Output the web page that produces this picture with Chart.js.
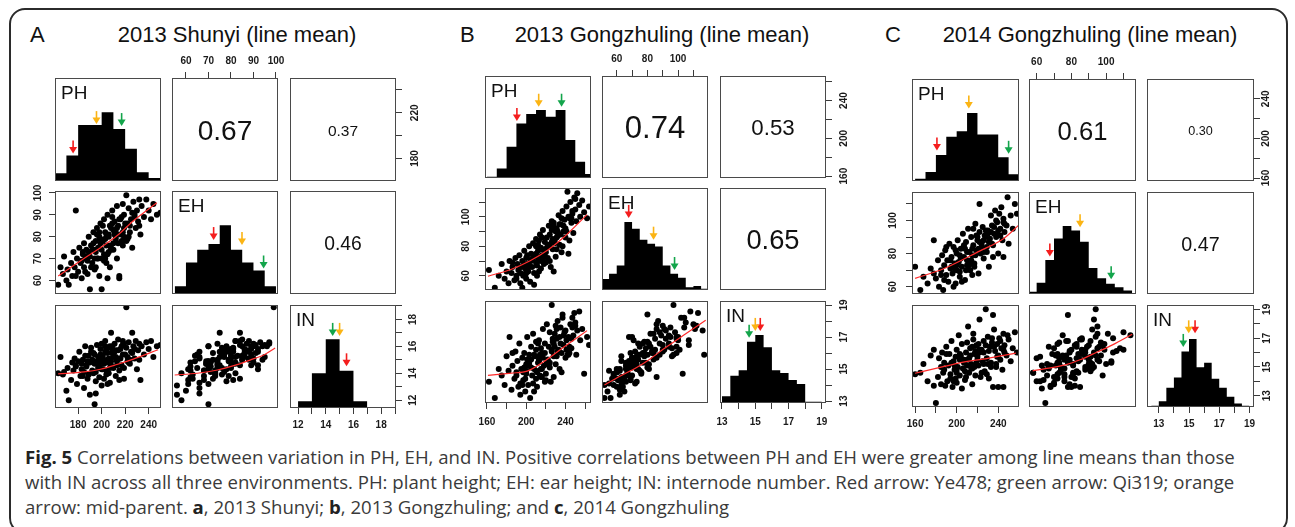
<!DOCTYPE html>
<html><head><meta charset="utf-8">
<script src="https://cdn.jsdelivr.net/npm/chart.js@4.4.1/dist/chart.umd.min.js"></script>
<style>
html,body{margin:0;padding:0;background:#fff;}
body{width:1295px;height:527px;overflow:hidden;position:relative;font-family:"Liberation Sans",Arial,sans-serif;}
#frame{position:absolute;left:9px;top:8px;width:1279px;height:526px;border:2px solid #2b2b2b;border-radius:16px;box-sizing:border-box;}
.cv{position:absolute;}
.ttl{position:absolute;font-size:22px;line-height:22px;color:#111;white-space:nowrap;}
.diag{position:absolute;font-size:19px;line-height:19px;color:#111;}
.cor{position:absolute;display:flex;align-items:center;justify-content:center;color:#111;padding-top:2px;box-sizing:border-box;}
#cap{position:absolute;left:25px;top:444px;font-family:"Open Sans",sans-serif;font-size:18.6px;line-height:25px;color:#3a3a3a;white-space:nowrap;}
#cap b{color:#222;}
</style></head><body>
<div id="frame"></div>
<div class="ttl" style="left:30px;top:24px;">A</div>
<div class="ttl" style="left:37px;top:24px;width:400px;text-align:center;">2013 Shunyi (line mean)</div>
<div class="ttl" style="left:460px;top:24px;">B</div>
<div class="ttl" style="left:462px;top:24px;width:400px;text-align:center;">2013 Gongzhuling (line mean)</div>
<div class="ttl" style="left:885px;top:24px;">C</div>
<div class="ttl" style="left:890px;top:24px;width:400px;text-align:center;">2014 Gongzhuling (line mean)</div>
<div id="cap"><b>Fig. 5</b> Correlations between variation in PH, EH, and IN. Positive correlations between PH and EH were greater among line means than those<br>with IN across all three environments. PH: plant height; EH: ear height; IN: internode number. Red arrow: Ye478; green arrow: Qi319; orange<br>arrow: mid-parent. <b>a</b>, 2013 Shunyi; <b>b</b>, 2013 Gongzhuling; and <b>c</b>, 2014 Gongzhuling</div>
<script>
// ---------------- DATA ----------------
const VAR_NAMES = ['PH', 'EH', 'IN'];

// Panel A: 2013 Shunyi (line means)
const PH_A = [
163,165,167,168,170,171,172,174,175,176,
177,178,179,180,181,182,183,184,185,185,
186,187,188,189,190,190,191,192,193,194,
194,195,196,196,197,198,198,199,200,200,
201,202,202,203,204,205,205,206,207,207,
208,209,210,210,211,212,213,213,214,215,
216,217,218,218,219,221,221,222,223,224,
225,226,227,228,229,230,231,232,233,234,
236,238,240,242,244,247,250,195,205,215,
192,197,203,208,212,188,199,206,216,223,
178,184,201,209,219,226,232,196,204,214,
187,191,195,199,202,206,210,213,217,220,
183,189,193,200,204,208,211,215,219,224,
198,203,207,212,186,194,209,218,222,228];
const EH_A = [
58,66,63,71,60,65,58,68,62,73,
66,92,70,64,75,68,61,72,77,66,
70,74,63,80,56,71,76,68,82,70,
65,78,84,70,75,62,80,86,56,74,
78,88,69,82,76,72,90,80,66,85,
84,92,74,83,87,79,94,70,85,62,
81,89,76,95,84,99,78,86,93,82,
88,75,96,90,84,92,87,97,81,94,
89,97,92,88,95,90,91,66,61,61,
74,70,79,75,82,69,77,73,88,80,
62,73,85,89,80,91,85,81,68,77,
71,66,73,79,72,81,77,84,78,86,
69,73,77,70,80,74,81,88,90,85,
82,70,76,80,64,74,86,82,79,89];
const IN_A = [
14.0,15.2,13.9,14.1,12.7,14.4,12.0,13.5,14.8,14.2,
15.1,14.6,13.2,14.9,15.6,13.8,14.3,15.0,14.1,12.9,
16.0,14.6,13.6,15.3,12.4,14.8,15.9,14.2,14.0,11.7,
15.4,13.4,16.1,14.9,15.2,13.7,14.5,15.8,13.1,16.2,
14.3,15.0,14.7,16.4,13.9,15.5,14.8,15.1,13.3,16.0,
17.0,15.6,14.4,15.3,16.2,13.8,15.0,14.9,16.5,14.2,
15.8,14.6,15.4,16.1,13.6,18.9,15.9,15.2,16.3,14.7,
15.6,17.0,16.0,15.1,16.4,14.3,15.7,16.2,13.5,16.0,
15.4,16.3,15.8,16.4,15.2,16.0,16.1,12.5,13.2,13.5,
15.0,14.4,15.6,14.6,15.2,14.9,15.4,14.0,15.1,14.8,
14.5,13.8,15.3,16.0,14.4,15.5,15.0,14.7,14.2,15.7,
14.5,15.6,14.1,15.0,13.6,15.9,15.2,14.6,16.0,15.4,
14.7,13.9,15.5,14.3,15.8,14.9,15.6,15.1,16.2,15.0,
14.8,16.0,14.4,15.7,15.3,14.7,15.5,16.4,14.9,15.8];
const COR_A = [0.67, 0.37, 0.46];           // PH-EH, PH-IN, EH-IN
const BRK_A_PH = [160,170,180,190,200,210,220,230,240,250];
const CNT_A_PH = [8,26,57,57,70,53,33,9,3];
const BRK_A_EH = [55,60,65,70,75,80,85,90,95,100];
const CNT_A_EH = [8,32,45,51,70,45,32,24,8];
const BRK_A_IN = [12,13,14,15,16,17];
const CNT_A_IN = [14,71,140,76,14];
// arrows: red (Ye478), orange (mid-parent), green (Qi319): x value, tip height
const ARX_A_PH = [175.7, 195.6, 217.0]; const ARY_A_PH = [28, 58, 56];
const ARX_A_EH = [72.3, 84.9, 94.5];    const ARY_A_EH = [55, 50, 26];
const ARX_A_IN = [15.5, 15.0, 14.5];    const ARY_A_IN = [85, 147, 147];
// smooth (lowess) lines
const LOX_A_PHEH = [163,184,199,213,227,247]; const LOY_A_PHEH = [62,69.7,75,80.4,87.3,95.5];
const LOX_A_PHIN = [163,185,199,213,227,248]; const LOY_A_PHIN = [13.95,14.1,14.3,14.65,15.05,15.75];
const LOX_A_EHIN = [55,65,74,82,88.5,95,99.6]; const LOY_A_EHIN = [13.87,14.0,14.24,14.6,14.98,15.4,15.87];
const RANGE_A_PH = [160.3, 250.5]; const RANGE_A_EH = [53.8, 100.9]; const RANGE_A_IN = [11.42, 19.07];
const TICKS_A_PH = [180,200,220,240]; const LAB_A_PH_RIGHT = [180,220]; const LAB_A_PH_BOTTOM = [180,200,220,240];
const TICKS_A_EH = [60,70,80,90,100]; const LAB_A_EH = [60,70,80,90,100];
const TICKS_A_IN = [12,13,14,15,16,17,18,19]; const LAB_A_IN = [12,14,16,18];

// Panel B: 2013 Gongzhuling (line means)
const PH_B = [
162,168,172,175,178,180,182,183,185,186,
188,189,190,191,192,193,194,195,196,197,
198,199,200,200,201,202,203,204,205,205,
206,207,208,209,210,210,211,212,213,214,
215,215,216,217,218,219,220,221,222,223,
224,225,226,227,228,229,230,231,232,233,
234,235,236,237,238,239,240,241,242,243,
244,245,246,247,248,249,250,251,252,254,
255,257,259,262,264,196,208,243,237,228,
203,210,217,221,226,231,235,207,213,199,
186,194,212,219,240,246,230,224,216,201,
205,211,216,222,227,232,238,244,200,208,
214,219,224,229,234,241,247,197,203,210,
215,220,226,231,236,190,198,213,228,250];
const EH_B = [
64,52,60,68,58,63,55,70,62,66,
57,72,60,68,64,74,55,66,70,61,
77,65,58,72,68,63,80,56,70,75,
66,82,62,73,69,85,60,77,71,88,
65,79,74,91,68,83,76,86,72,94,
80,66,97,78,96,84,73,92,87,101,
81,95,76,104,90,98,86,107,117,100,
84,110,96,102,89,113,105,97,116,108,
100,111,103,99,107,52,54,75,80,63,
67,75,70,79,83,78,88,72,63,60,
69,62,81,73,92,99,90,70,86,74,
71,67,78,81,85,90,94,99,62,74,
70,77,88,82,95,90,104,60,66,80,
73,69,91,86,99,58,68,84,94,112];
const IN_B = [
14.2,13.2,15.0,14.6,14.0,15.8,14.9,17.0,13.7,15.2,
14.4,16.1,14.8,15.5,13.9,16.6,14.1,15.0,15.7,14.3,
16.0,13.6,14.7,15.3,17.0,14.0,15.9,13.2,15.1,16.4,
14.6,17.2,15.0,15.8,14.4,16.2,13.9,15.4,16.8,15.9,
14.5,16.3,15.0,17.5,15.2,16.0,14.7,17.8,15.6,16.4,
15.1,14.2,19.0,16.7,15.8,17.2,15.3,16.9,18.0,16.2,
15.0,17.6,14.8,18.2,16.5,17.3,15.7,16.8,15.9,17.0,
16.0,17.8,16.3,18.2,17.1,18.5,17.9,15.9,17.4,18.6,
16.8,17.5,14.7,17.0,16.5,14.0,13.6,15.9,18.4,14.5,
15.2,14.9,15.7,15.4,16.1,15.8,16.6,14.1,15.5,14.4,
16.0,13.4,16.6,14.2,17.4,16.9,17.7,15.4,14.5,15.6,
15.6,14.8,16.0,15.3,16.9,16.1,17.1,16.4,14.9,15.9,
14.6,16.6,17.3,16.4,17.0,16.2,17.6,14.8,15.4,16.7,
15.0,14.3,16.2,17.5,16.0,14.6,15.1,15.6,16.6,17.7];
const COR_B = [0.74, 0.53, 0.65];
const BRK_B_PH = [160,170,180,190,200,210,220,230,240,250,260,270];
const CNT_B_PH = [1,7,23,40,47,50,45,50,28,12,3];
const BRK_B_EH = [50,55,60,65,70,75,80,85,90,95,100,105,110,115,120];
const CNT_B_EH = [8,12,18,50,45,37,34,32,18,12,9,2,3,1];
const BRK_B_IN = [13,13.5,14,14.5,15,15.5,16,16.5,17,17.5,18,18.5,19];
const CNT_B_IN = [5,20,24,45,50,41,24,22,17,14,1,1];
const ARX_B_PH = [190.5, 212.7, 236.0]; const ARY_B_PH = [42, 52.4, 52.4];
const ARX_B_EH = [67.8, 84.0, 97.7];    const ARY_B_EH = [53, 37, 14.7];
const ARX_B_IN = [15.3, 15.0, 14.63];   const ARY_B_IN = [53, 53, 48];
const LOX_B_PHEH = [161,185,204,222,238,262]; const LOY_B_PHEH = [59.7,64.5,70.2,77.5,86,101.5];
const LOX_B_PHIN = [161,185,201,221,238,262]; const LOY_B_PHIN = [14.6,14.75,14.87,15.6,16.36,17.4];
const LOX_B_EHIN = [52,62,73,82,90.5,105,118]; const LOY_B_EHIN = [14.0,14.55,15.1,15.65,16.25,17.2,18.05];
const RANGE_B_PH = [158, 266]; const RANGE_B_EH = [50.4, 119.5]; const RANGE_B_IN = [12.88, 19.25];
const TICKS_B_PH = [160,180,200,220,240,260]; const LAB_B_PH = [160,200,240];
const TICKS_B_EH = [60,70,80,90,100,110]; const LAB_B_EH = [60,80,100];
const TICKS_B_IN = [13,14,15,16,17,18,19]; const LAB_B_IN = [13,15,17,19];

// Panel C: 2014 Gongzhuling (line means)
const PH_C = [
160,168,172,175,178,180,182,183,185,186,
187,188,189,190,191,192,193,194,195,196,
197,198,199,200,200,201,202,203,204,205,
206,207,208,209,210,211,212,213,214,215,
216,217,218,219,220,221,222,223,224,225,
226,227,228,229,230,231,232,233,234,235,
236,237,238,239,240,241,242,243,244,245,
246,248,249,250,252,254,256,258,197,205,
215,178,235,190,245,165,222,213,198,208,
203,194,226,231,217,209,185,239,221,200,
204,210,215,220,226,230,236,240,200,195,
212,218,224,228,233,245,199,207,219,234,
214,222,210,203,238,188,246,229,216,242];
const EH_C = [
72,66,62,71,88,65,76,60,70,79,
58,73,82,67,76,63,86,71,78,68,
84,74,62,80,70,88,75,66,83,72,
92,78,64,87,76,95,81,70,90,79,
85,74,98,82,88,68,93,80,86,96,
77,91,94,84,94,72,89,103,97,85,
92,106,90,99,80,104,95,108,88,101,
93,97,114,86,103,95,110,104,60,63,
67,68,78,84,78,58,110,75,71,83,
79,76,81,87,72,70,67,91,83,74,
77,81,83,90,88,92,96,94,73,72,
73,79,84,90,93,99,82,85,91,86,
76,87,73,69,100,64,98,81,95,91];
const IN_C = [
14.5,15.2,14.0,15.8,16.2,12.5,14.3,15.6,13.8,16.0,
14.6,15.3,13.7,16.4,14.0,15.1,15.9,14.2,16.8,13.6,
15.4,14.8,15.7,16.2,13.9,15.0,17.2,14.4,15.6,16.6,
14.9,15.3,14.1,16.0,15.5,17.8,14.6,16.3,15.2,13.8,
16.9,15.0,14.4,16.5,15.7,15.1,18.3,14.3,16.2,15.4,
16.8,14.7,19.0,15.6,17.1,14.2,16.4,15.3,16.7,13.6,
17.6,16.1,15.0,16.6,13.6,17.0,15.5,16.3,14.8,17.3,
16.0,15.8,17.2,16.9,15.4,16.3,17.4,16.0,14.0,13.5,
14.9,13.7,18.6,15.9,13.6,14.6,16.2,15.8,15.1,14.7,
15.5,14.5,15.2,16.1,15.9,14.3,15.0,15.7,16.6,14.8,
15.8,15.1,16.4,15.5,16.0,15.2,16.4,15.8,14.6,15.3,
15.6,16.1,14.6,16.5,15.0,16.2,14.2,15.5,15.3,17.0,
14.9,16.0,16.7,15.9,15.2,14.8,16.5,14.5,17.3,16.8];
const COR_C = [0.61, 0.30, 0.47];
const BRK_C_PH = [160,170,180,190,200,210,220,230,240,250,260];
const CNT_C_PH = [2,8,23,39,44,60,41,41,21,6];
const BRK_C_EH = [55,60,65,70,75,80,85,90,95,100,105,110,115];
const CNT_C_EH = [2,10,30,49,60,56,46,23,14,9,6,3];
const BRK_C_IN = [12.5,13,13.5,14,14.5,15,15.5,16,16.5,17,17.5,18,18.5,19];
const CNT_C_IN = [1,5,17,26,49,60,35,39,25,17,9,3,1];
const ARX_C_PH = [181.0, 211.7, 250.0]; const ARY_C_PH = [27, 64, 24];
const ARX_C_EH = [67.6, 85.0, 102.9];   const ARY_C_EH = [33, 59, 13];
const ARX_C_IN = [15.4, 14.98, 14.62];  const ARY_C_IN = [65, 65, 53];
const LOX_C_PHEH = [160,188,222,245,260]; const LOY_C_PHEH = [65,71,81.5,89,97.3];
const LOX_C_PHIN = [160,180,202,230,257]; const LOY_C_PHIN = [14.56,14.9,15.27,15.6,15.96];
const LOX_C_EHIN = [57.7,67,77,85,92.3,104,115]; const LOY_C_EHIN = [14.73,14.92,15.16,15.5,15.89,16.55,17.27];
const RANGE_C_PH = [157, 260]; const RANGE_C_EH = [55.6, 117.2]; const RANGE_C_IN = [12.22, 19.3];
const TICKS_C_PH = [160,180,200,220,240]; const LAB_C_PH = [160,200,240];
const TICKS_C_EH = [60,70,80,90,100,110]; const LAB_C_EH = [60,80,100];
const TICKS_C_IN = [13,14,15,16,17,18,19]; const LAB_C_IN = [13,15,17,19];

const ARROW_COLORS = ['#f41d1d', '#fbb414', '#13a54b']; // red, orange, green

// ---------------- BUILD ----------------
const M = 34;
const TICK_FONT = {family: '"Liberation Sans Narrow", "Liberation Sans", Arial, sans-serif', size: 10, weight: 'bold'};

const PANELS = [
  { vars:[PH_A, EH_A, IN_A], ranges:[RANGE_A_PH, RANGE_A_EH, RANGE_A_IN], cor:COR_A,
    hist:[[BRK_A_PH,CNT_A_PH],[BRK_A_EH,CNT_A_EH],[BRK_A_IN,CNT_A_IN]],
    arrows:[[ARX_A_PH,ARY_A_PH],[ARX_A_EH,ARY_A_EH],[ARX_A_IN,ARY_A_IN]],
    lo:{'1_0':[LOX_A_PHEH,LOY_A_PHEH],'2_0':[LOX_A_PHIN,LOY_A_PHIN],'2_1':[LOX_A_EHIN,LOY_A_EHIN]},
    axes:{ top:{ticks:TICKS_A_EH,labels:LAB_A_EH,pad:4.5}, right0:{ticks:TICKS_A_PH,labels:LAB_A_PH_RIGHT,pad:4.5},
           left:{ticks:TICKS_A_EH,labels:LAB_A_EH,pad:2.5}, bottom0:{ticks:TICKS_A_PH,labels:LAB_A_PH_BOTTOM,pad:5.5},
           right2:{ticks:TICKS_A_IN,labels:LAB_A_IN,pad:6}, bottom2:{ticks:TICKS_A_IN,labels:LAB_A_IN,pad:5.5} },
    geo:{xs:[55,172,290], ys:[78,191,305], w:106, h:103} },
  { vars:[PH_B, EH_B, IN_B], ranges:[RANGE_B_PH, RANGE_B_EH, RANGE_B_IN], cor:COR_B,
    hist:[[BRK_B_PH,CNT_B_PH],[BRK_B_EH,CNT_B_EH],[BRK_B_IN,CNT_B_IN]],
    arrows:[[ARX_B_PH,ARY_B_PH],[ARX_B_EH,ARY_B_EH],[ARX_B_IN,ARY_B_IN]],
    lo:{'1_0':[LOX_B_PHEH,LOY_B_PHEH],'2_0':[LOX_B_PHIN,LOY_B_PHIN],'2_1':[LOX_B_EHIN,LOY_B_EHIN]},
    axes:{ top:{ticks:TICKS_B_EH,labels:LAB_B_EH,pad:4.5}, right0:{ticks:TICKS_B_PH,labels:LAB_B_PH,pad:3.8},
           left:{ticks:TICKS_B_EH,labels:LAB_B_EH,pad:4.2}, bottom0:{ticks:TICKS_B_PH,labels:LAB_B_PH,pad:7},
           right2:{ticks:TICKS_B_IN,labels:LAB_B_IN,pad:7}, bottom2:{ticks:TICKS_B_IN,labels:LAB_B_IN,pad:7} },
    geo:{xs:[485,602,720], ys:[76,188,301], w:106, h:102} },
  { vars:[PH_C, EH_C, IN_C], ranges:[RANGE_C_PH, RANGE_C_EH, RANGE_C_IN], cor:COR_C,
    hist:[[BRK_C_PH,CNT_C_PH],[BRK_C_EH,CNT_C_EH],[BRK_C_IN,CNT_C_IN]],
    arrows:[[ARX_C_PH,ARY_C_PH],[ARX_C_EH,ARY_C_EH],[ARX_C_IN,ARY_C_IN]],
    lo:{'1_0':[LOX_C_PHEH,LOY_C_PHEH],'2_0':[LOX_C_PHIN,LOY_C_PHIN],'2_1':[LOX_C_EHIN,LOY_C_EHIN]},
    axes:{ top:{ticks:TICKS_C_EH,labels:LAB_C_EH,pad:4.3}, right0:{ticks:TICKS_C_PH,labels:LAB_C_PH,pad:-2},
           left:{ticks:TICKS_C_EH,labels:LAB_C_EH,pad:4.2}, bottom0:{ticks:TICKS_C_PH,labels:LAB_C_PH,pad:5.6},
           right2:{ticks:TICKS_C_IN,labels:LAB_C_IN,pad:1.5}, bottom2:{ticks:TICKS_C_IN,labels:LAB_C_IN,pad:5.6} },
    geo:{xs:[912,1029,1147], ys:[79,192,305], w:107, h:102} }
];

function scaleCfg(isX, range, spec, pos) {
  const cfg = {
    type: 'linear', min: range[0], max: range[1], bounds: 'data', offset: false,
    position: pos, display: !!spec,
    grid: {display: true, drawOnChartArea: false, drawTicks: true, tickLength: 6, color: '#3a3a3a', lineWidth: 1},
    border: {display: false}
  };
  if (spec) {
    cfg.afterBuildTicks = s => { s.ticks = spec.ticks.map(v => ({value: v})); };
    cfg.afterFit = s => { if (isX) s.height = M; else s.width = M; };
    cfg.ticks = {
      autoSkip: false, color: '#1a1a1a', font: TICK_FONT, padding: spec.pad,
      callback: v => spec.labels.includes(v) ? String(v) : ''
    };
    if (isX) { cfg.ticks.minRotation = 0; cfg.ticks.maxRotation = 0; }
    else { cfg.ticks.minRotation = 90; cfg.ticks.maxRotation = 90; cfg.ticks.crossAlign = 'center'; }
  }
  return cfg;
}

const boxPlugin = {
  id: 'cellbox',
  afterDraw(chart) {
    const a = chart.chartArea, ctx = chart.ctx;
    ctx.save(); ctx.strokeStyle = '#4a4a4a'; ctx.lineWidth = 1;
    ctx.strokeRect(Math.round(a.left) + 0.5, Math.round(a.top) + 0.5, Math.round(a.width) - 1, Math.round(a.height) - 1);
    ctx.restore();
  }
};

function arrowPlugin(xs, ys) {
  return {
    id: 'arrows',
    afterDatasetsDraw(chart) {
      const ctx = chart.ctx, sx = chart.scales.x, sy = chart.scales.y;
      xs.forEach((xv, i) => {
        const px = sx.getPixelForValue(xv), py = sy.getPixelForValue(ys[i]);
        ctx.save();
        ctx.strokeStyle = ARROW_COLORS[i]; ctx.fillStyle = ARROW_COLORS[i]; ctx.lineWidth = 1.6;
        ctx.beginPath(); ctx.moveTo(px, py - 13); ctx.lineTo(px, py - 5); ctx.stroke();
        ctx.beginPath(); ctx.moveTo(px - 4, py - 6.5); ctx.lineTo(px + 4, py - 6.5); ctx.lineTo(px, py); ctx.closePath(); ctx.fill();
        ctx.restore();
      });
    }
  };
}

function histPoints(brk, cnt) {
  const pts = cnt.map((c, i) => ({x: brk[i], y: c}));
  pts.push({x: brk[brk.length - 1], y: cnt[cnt.length - 1]});
  return pts;
}

function addDiv(cls, txt, style) {
  const d = document.createElement('div');
  d.className = cls; d.textContent = txt;
  Object.assign(d.style, style);
  document.body.appendChild(d);
  return d;
}

function buildCell(P, r, c) {
  const g = P.geo, x0 = g.xs[c], y0 = g.ys[r], w = g.w, h = g.h;
  const cv = document.createElement('canvas');
  cv.width = w + 2 * M; cv.height = h + 2 * M;
  cv.className = 'cv';
  cv.style.left = (x0 - M) + 'px'; cv.style.top = (y0 - M) + 'px';
  cv.style.width = cv.width + 'px'; cv.style.height = cv.height + 'px';
  document.body.appendChild(cv);

  const ax = P.axes;
  const axTop = (r === 0 && c === 1) ? ax.top : null;
  const axRight = (r === 0 && c === 2) ? ax.right0 : ((r === 2 && c === 2) ? ax.right2 : null);
  const axLeft = (r === 1 && c === 0) ? ax.left : null;
  const axBottom = (r === 2 && c === 0) ? ax.bottom0 : ((r === 2 && c === 2) ? ax.bottom2 : null);
  const pad = {left: axLeft ? 0 : M, right: axRight ? 0 : M, top: axTop ? 0 : M, bottom: axBottom ? 0 : M};

  const scales = {};
  scales.x = scaleCfg(true, P.ranges[c], axTop || axBottom, axTop ? 'top' : 'bottom');
  const datasets = [];
  const plugins = [boxPlugin];

  if (r === c) {
    const [brk, cnt] = P.hist[r];
    scales.y = scaleCfg(false, [0, 1.5 * Math.max(...cnt)], null, 'left');
    if (axRight) scales.yr = scaleCfg(false, P.ranges[r], axRight, 'right');
    datasets.push({type: 'line', data: histPoints(brk, cnt), stepped: true, fill: 'origin',
      backgroundColor: '#000', borderColor: '#000', borderWidth: 0, pointRadius: 0});
    plugins.push(arrowPlugin(P.arrows[r][0], P.arrows[r][1]));
    addDiv('diag', VAR_NAMES[r], {left: (x0 + 6) + 'px', top: (y0 + 5) + 'px'});
  } else {
    scales.y = scaleCfg(false, P.ranges[r], axLeft || axRight, axRight ? 'right' : 'left');
    if (r > c) {
      const [lx, ly] = P.lo[r + '_' + c];
      datasets.push({type: 'line', data: lx.map((v, i) => ({x: v, y: ly[i]})), borderColor: '#ff2b2b',
        borderWidth: 1.2, pointRadius: 0, tension: 0.4, cubicInterpolationMode: 'monotone', fill: false});
      const xv = P.vars[c], yv = P.vars[r];
      datasets.push({type: 'scatter', data: xv.map((v, i) => ({x: v, y: yv[i]})),
        pointRadius: 3, pointBackgroundColor: '#000', pointBorderWidth: 0, backgroundColor: '#000'});
    } else {
      const idx = (r === 0 && c === 1) ? 0 : ((r === 0 && c === 2) ? 1 : 2);
      const rv = P.cor[idx];
      addDiv('cor', rv.toFixed(2), {left: x0 + 'px', top: y0 + 'px', width: w + 'px', height: h + 'px',
        fontSize: (42 * rv).toFixed(1) + 'px'});
    }
  }

  new Chart(cv, {
    type: 'scatter',
    data: {datasets},
    options: {
      responsive: false, animation: false, events: [], devicePixelRatio: 1,
      layout: {padding: pad},
      scales,
      plugins: {legend: {display: false}, tooltip: {enabled: false}, title: {display: false}}
    },
    plugins
  });
}

PANELS.forEach(P => {
  for (let r = 0; r < 3; r++) for (let c = 0; c < 3; c++) buildCell(P, r, c);
});
</script>
</body></html>
